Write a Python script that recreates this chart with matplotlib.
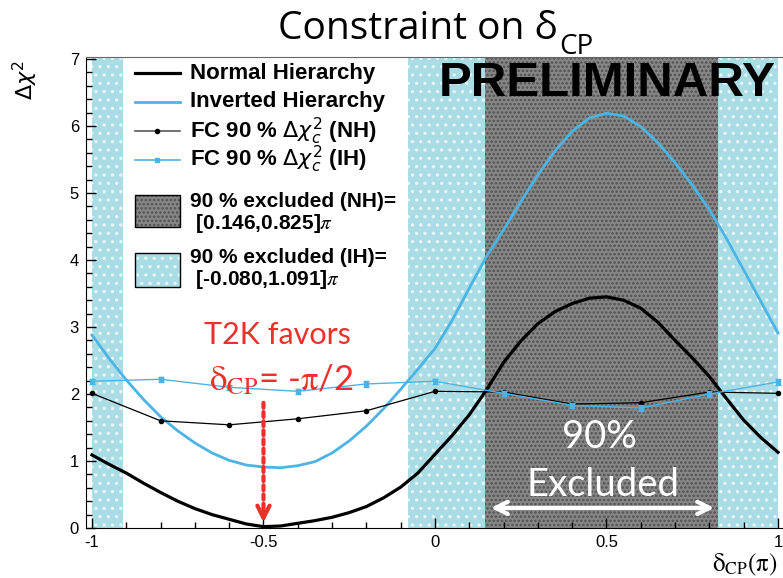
import matplotlib
matplotlib.use("Agg")
import matplotlib.pyplot as plt
from matplotlib.patches import Rectangle
from matplotlib.ticker import MultipleLocator

# Delta chi^2 scan vs delta_CP (in units of pi)
DCP = [-1.0, -0.95, -0.9, -0.85, -0.8, -0.75, -0.7, -0.65, -0.6, -0.55, -0.5,
       -0.45, -0.4, -0.35, -0.3, -0.25, -0.2, -0.15, -0.1, -0.05, 0.0,
       0.05, 0.1, 0.15, 0.2, 0.25, 0.3, 0.35, 0.4, 0.45, 0.5,
       0.55, 0.6, 0.65, 0.7, 0.75, 0.8, 0.85, 0.9, 0.95, 1.0]
DCHI2_NH = [1.09, 0.95, 0.82, 0.67, 0.53, 0.40, 0.29, 0.20, 0.13, 0.06, 0.02,
            0.03, 0.07, 0.11, 0.16, 0.23, 0.32, 0.45, 0.61, 0.82, 1.10,
            1.38, 1.69, 2.06, 2.47, 2.79, 3.05, 3.23, 3.35, 3.43, 3.45,
            3.40, 3.28, 3.07, 2.80, 2.54, 2.26, 1.93, 1.61, 1.35, 1.13]
DCHI2_IH = [2.88, 2.53, 2.21, 1.92, 1.66, 1.45, 1.27, 1.12, 1.01, 0.94, 0.91,
            0.90, 0.93, 0.99, 1.12, 1.30, 1.52, 1.78, 2.07, 2.37, 2.68,
            3.10, 3.58, 4.05, 4.45, 4.87, 5.27, 5.63, 5.92, 6.12, 6.19,
            6.15, 5.99, 5.75, 5.45, 5.12, 4.75, 4.32, 3.85, 3.38, 2.91]

# Feldman-Cousins 90% critical values
FC_DCP = [-1.0, -0.8, -0.6, -0.4, -0.2, 0.0, 0.2, 0.4, 0.6, 0.8, 1.0]
FC_NH = [2.01, 1.60, 1.54, 1.63, 1.75, 2.04, 2.03, 1.85, 1.87, 2.03, 2.01]
FC_IH = [2.19, 2.22, 2.10, 2.04, 2.15, 2.19, 2.01, 1.83, 1.79, 2.00, 2.18]
FC_IH_ERR = [0.04, 0.04, 0.04, 0.04, 0.04, 0.04, 0.04, 0.04, 0.04, 0.04, 0.04]

# 90% excluded intervals (units of pi)
EXCL_NH = (0.146, 0.825)
EXCL_IH = (-0.080, 1.091)

IH_COLOR = "#4cb4e4"
BAND_IH = "#aadce6"
BAND_NH = "#868686"
RED = "#e8322a"

plt.rcParams["hatch.linewidth"] = 1.2
plt.rcParams["font.family"] = ["Liberation Sans", "DejaVu Sans"]

fig = plt.figure(figsize=(7.83, 5.78), dpi=100)
ax = fig.add_axes([0.1098, 0.0865, 0.8902, 0.8149])
ax.set_xlim(-1.0175, 1.0146)
ax.set_ylim(0, 7.03)

# excluded regions; the IH interval wraps past +pi
ax.axvspan(EXCL_IH[0], 1.0, facecolor=BAND_IH, edgecolor="#e6f5f8", hatch="..", lw=0, zorder=0)
ax.axvspan(-1.0, EXCL_IH[1] - 2.0, facecolor=BAND_IH, edgecolor="#e6f5f8", hatch="..", lw=0, zorder=0)
ax.axvspan(EXCL_NH[0], EXCL_NH[1], facecolor=BAND_NH, edgecolor="#505050", hatch="....", lw=0, zorder=0.5)

ax.plot(DCP, DCHI2_NH, color="black", lw=2.3, zorder=3)
ax.plot(DCP, DCHI2_IH, color=IH_COLOR, lw=2.0, zorder=3)
ax.plot(FC_DCP, FC_NH, color="black", lw=0.9, marker="o", ms=3, zorder=4)
ax.errorbar(FC_DCP, FC_IH, yerr=FC_IH_ERR, color=IH_COLOR, lw=1.0, marker="s", ms=3,
            capsize=2, elinewidth=1.5, zorder=4)

# axis styling
ax.spines["right"].set_visible(False)
ax.spines["top"].set_color("0.4")
ax.set_xticks([-1, -0.5, 0, 0.5, 1])
ax.set_xticklabels(["-1", "-0.5", "0", "0.5", "1"])
ax.xaxis.set_minor_locator(MultipleLocator(0.1))
ax.yaxis.set_major_locator(MultipleLocator(1))
ax.yaxis.set_minor_locator(MultipleLocator(0.2))
ax.tick_params(which="both", direction="in", width=1, labelsize=12, top=False, right=False)
ax.tick_params(which="major", length=7, pad=5)
ax.tick_params(which="minor", length=4)

# legend, drawn by hand in the empty band
hx0, hx1, tx = -0.875, -0.743, -0.714
leg_fs = 16
rows = [
    (6.79, "Normal Hierarchy"),
    (6.36, "Inverted Hierarchy"),
    (5.92, r"FC 90 % $\Delta\chi^{2}_{c}$ (NH)"),
    (5.50, r"FC 90 % $\Delta\chi^{2}_{c}$ (IH)"),
]
ax.plot([hx0, hx1], [rows[0][0]] * 2, color="black", lw=2.3)
ax.plot([hx0, hx1], [rows[1][0]] * 2, color=IH_COLOR, lw=2.0)
ax.plot([hx0, hx1], [rows[2][0]] * 2, color="0.35", lw=1.2)
ax.plot([(hx0 + hx1) / 2], [rows[2][0]], "o", color="black", ms=3)
ax.plot([hx0, hx1], [rows[3][0]] * 2, color=IH_COLOR, lw=1.2)
ax.plot([(hx0 + hx1) / 2], [rows[3][0]], "s", color=IH_COLOR, ms=3)
for y, lbl in rows:
    ax.text(tx, y, lbl, fontsize=leg_fs, fontweight="bold", va="center", ha="left",
            math_fontfamily="dejavusans")

ax.add_patch(Rectangle((hx0, 4.49), hx1 - hx0, 0.48, facecolor=BAND_NH, edgecolor="#505050",
                       hatch="....", lw=0))
ax.add_patch(Rectangle((hx0, 4.49), hx1 - hx0, 0.48, fill=False, edgecolor="black", lw=1))
ax.add_patch(Rectangle((hx0, 3.60), hx1 - hx0, 0.50, facecolor=BAND_IH, edgecolor="#e6f5f8",
                       hatch="..", lw=0))
ax.add_patch(Rectangle((hx0, 3.60), hx1 - hx0, 0.50, fill=False, edgecolor="black", lw=1))
ax.text(tx, 4.70, "90 % excluded (NH)=\n" + r" [%.3f,%.3f]$\pi$" % EXCL_NH, fontsize=15,
        fontweight="bold", va="center", ha="left", linespacing=1.05, math_fontfamily="stix")
ax.text(tx, 3.86, "90 % excluded (IH)=\n" + r" [%.3f,%.3f]$\pi$" % EXCL_IH, fontsize=15,
        fontweight="bold", va="center", ha="left", linespacing=1.05, math_fontfamily="stix")

ax.text(0.503, 6.64, "PRELIMINARY", fontsize=35.5, fontweight="bold", ha="center", va="center",
        zorder=5)

# annotations
callout = ["Lato", "DejaVu Sans"]
ax.text(-0.458, 2.88, "T2K favors", color=RED, fontsize=22, family=callout, ha="center",
        va="center", zorder=5)
ax.text(-0.449, 2.22, r"$\mathrm{\delta_{CP}}$= -$\mathrm{\pi}$/2", color=RED, fontsize=25,
        family=callout, ha="center", va="center", math_fontfamily="stix", zorder=5)
# dashed shaft plus a solid head
ax.annotate("", xy=(-0.5, 0.12), xytext=(-0.5, 1.91),
            arrowprops=dict(arrowstyle="-", color=RED, lw=3, ls=(0, (1.2, 1.0))), zorder=5)
ax.annotate("", xy=(-0.5, 0.04), xytext=(-0.5, 0.30),
            arrowprops=dict(arrowstyle="->", color=RED, lw=3, mutation_scale=22), zorder=5)

ax.text(0.48, 1.36, "90%", color="white", fontsize=27.5, family=callout, ha="center",
        va="center", zorder=5)
ax.text(0.49, 0.64, "Excluded", color="white", fontsize=27.5, family=callout, ha="center",
        va="center", zorder=5)
ax.annotate("", xy=(0.155, 0.30), xytext=(0.822, 0.30),
            arrowprops=dict(arrowstyle="<->", color="white", lw=3, mutation_scale=22), zorder=5)

# titles
title_font = ["Open Sans", "DejaVu Sans"]
title = fig.text(278 / 783, 1 - 39 / 578, "Constraint on δ", fontsize=28, family=title_font,
                 ha="left", va="baseline")
ax.annotate("CP", xy=(1.0, 0.0), xycoords=title, xytext=(1, 1), textcoords="offset points",
            fontsize=20, family=title_font, ha="left", va="center", annotation_clip=False)
fig.text(25 / 783, 1 - 80 / 578, r"$\Delta\chi^{2}$", fontsize=16, rotation=90,
         ha="center", va="center")
fig.text(712 / 783, 1 - 552 / 578, r"$\mathrm{\delta_{CP}(\pi)}$", fontsize=18, ha="left",
         va="top", math_fontfamily="stix")

fig.savefig("out.png", dpi=100)
